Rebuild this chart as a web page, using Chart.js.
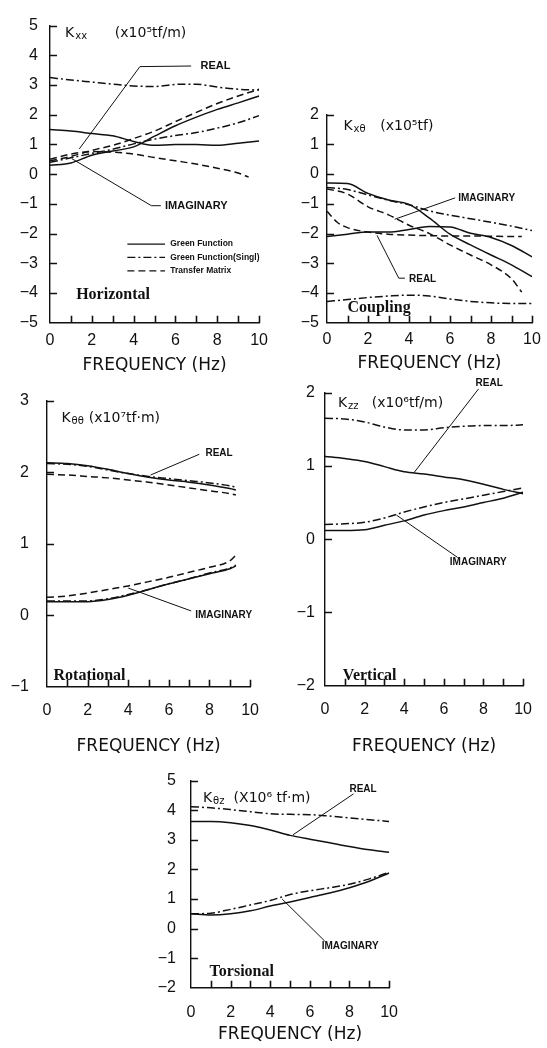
<!DOCTYPE html>
<html>
<head>
<meta charset="utf-8">
<script src="https://cdn.jsdelivr.net/npm/chart.js@4.4.1/dist/chart.umd.min.js"></script>
<style>
    html, body { margin: 0; padding: 0; background: #fff; }
    body { width: 547px; height: 1048px; position: relative; overflow: hidden; }
    canvas { position: absolute; }
</style>
</head>
<body>
<canvas id="cH"></canvas>
<canvas id="cC"></canvas>
<canvas id="cR"></canvas>
<canvas id="cV"></canvas>
<canvas id="cT"></canvas>
<script>
// frequencies (Hz)
const freq = [0, 1, 2, 3, 4, 5, 6, 7, 8, 9, 10];
const freqTo95 = [0, 1, 2, 3, 4, 5, 6, 7, 8, 9, 9.5];
const freqTo93 = [0, 1, 2, 3, 4, 5, 6, 7, 8, 9, 9.3];
const freqCouplingTM = [0, 0.5, 1, 2, 3, 4, 5, 6, 7, 8, 9, 9.5];

// Horizontal Kxx (x10^5 tf/m)
const kxxRealGreen = [1.5, 1.45, 1.37, 1.29, 1.1, 0.97, 1.0, 1.0, 0.97, 1.04, 1.12];
const kxxRealSingl = [3.25, 3.17, 3.1, 3.03, 2.97, 2.95, 3.02, 3.03, 2.93, 2.86, 2.83];
const kxxRealTM = [0.5, 0.68, 0.76, 0.74, 0.68, 0.56, 0.45, 0.34, 0.2, 0.04, -0.1];
const kxxImagGreen = [0.3, 0.38, 0.64, 0.78, 0.92, 1.28, 1.63, 1.92, 2.18, 2.4, 2.63];
const kxxImagSingl = [0.4, 0.55, 0.7, 0.84, 1.02, 1.18, 1.3, 1.4, 1.55, 1.73, 1.97];
const kxxImagTM = [0.45, 0.6, 0.8, 0.97, 1.2, 1.45, 1.77, 2.08, 2.38, 2.63, 2.86];

// Coupling Kx-theta (x10^5 tf)
const kxtGreenA = [-0.3, -0.32, -0.65, -0.87, -1.02, -1.48, -2.02, -2.38, -2.72, -3.05, -3.45];
const kxtGreenB = [-2.1, -2.02, -1.95, -1.95, -1.86, -1.76, -1.78, -1.99, -2.13, -2.4, -2.78];
const kxtSinglA = [-0.45, -0.52, -0.7, -0.88, -1.03, -1.24, -1.38, -1.5, -1.62, -1.75, -1.9];
const kxtSinglB = [-4.28, -4.22, -4.15, -4.1, -4.07, -4.1, -4.2, -4.28, -4.33, -4.35, -4.35];
const kxtTMA = [-0.5, -0.67, -1.1, -1.37, -1.72, -2.0, -2.38, -2.72, -3.05, -3.52, -3.97];
const kxtTMB = [-1.25, -1.62, -1.8, -1.95, -2.02, -2.05, -2.07, -2.08, -2.08, -2.09, -2.1, -2.1];

// Rotational K-theta-theta (x10^7 tf.m)
const kttRealGreen = [2.13, 2.12, 2.09, 2.04, 1.98, 1.93, 1.89, 1.86, 1.82, 1.77, 1.75];
const kttRealSingl = [2.12, 2.11, 2.08, 2.03, 1.98, 1.94, 1.91, 1.88, 1.85, 1.81, 1.79];
const kttRealTM = [1.97, 1.96, 1.94, 1.92, 1.89, 1.86, 1.82, 1.78, 1.74, 1.7, 1.68];
const kttImagGreen = [0.19, 0.19, 0.19, 0.22, 0.28, 0.36, 0.44, 0.51, 0.58, 0.65, 0.69];
const kttImagSingl = [0.2, 0.2, 0.2, 0.23, 0.29, 0.36, 0.44, 0.51, 0.59, 0.66, 0.7];
const kttImagTM = [0.25, 0.27, 0.31, 0.36, 0.41, 0.47, 0.53, 0.6, 0.67, 0.76, 0.84];

// Vertical Kzz (x10^6 tf/m)
const kzzRealGreen = [1.13, 1.1, 1.06, 0.99, 0.92, 0.89, 0.85, 0.81, 0.75, 0.68, 0.62];
const kzzRealSingl = [1.65, 1.64, 1.6, 1.53, 1.49, 1.49, 1.52, 1.54, 1.55, 1.55, 1.56];
const kzzImagGreen = [0.12, 0.12, 0.13, 0.19, 0.25, 0.33, 0.39, 0.44, 0.5, 0.56, 0.64];
const kzzImagSingl = [0.2, 0.21, 0.23, 0.29, 0.37, 0.44, 0.5, 0.55, 0.6, 0.65, 0.7];

// Torsional K-theta-z (x10^6 tf.m)
const ktzRealGreen = [3.62, 3.62, 3.58, 3.48, 3.33, 3.15, 3.02, 2.9, 2.77, 2.66, 2.58];
const ktzRealSingl = [4.12, 4.08, 4.02, 3.95, 3.88, 3.86, 3.85, 3.8, 3.74, 3.68, 3.62];
const ktzImagGreen = [0.5, 0.46, 0.5, 0.6, 0.76, 0.9, 1.05, 1.2, 1.38, 1.6, 1.88];
const ktzImagSingl = [0.5, 0.52, 0.65, 0.8, 0.95, 1.15, 1.28, 1.38, 1.5, 1.68, 1.9];

const legendLabels = ["Green Function", "Green Function(Singl)", "Transfer Matrix"];
const legendStyles = ["solid", "dashdot", "dash"];

const INK = "#111";
const DASH = { solid: [], dashdot: [8, 3, 2, 3], dash: [7, 4] };

function fmtTick(v) {
    return v < 0 ? "\u2212" + Math.abs(v) : String(v);
}

// annotations, ticks pointing inward, labels
function notesPlugin(cfg) {
    return {
        id: "notes",
        afterDraw(chart) {
            const ctx = chart.ctx;
            const area = chart.chartArea;
            const x = chart.scales.x, y = chart.scales.y;
            const px = v => x.getPixelForValue(v);
            const py = v => y.getPixelForValue(v);
            ctx.save();
            ctx.strokeStyle = INK;
            ctx.fillStyle = INK;
            ctx.setLineDash([]);

            // inward tick marks, one per unit
            ctx.lineWidth = 1.6;
            ctx.beginPath();
            for (let v = 1; v <= 10; v++) {
                const xx = Math.round(px(v)) + 0.5;
                ctx.moveTo(xx, area.bottom);
                ctx.lineTo(xx, area.bottom - 7);
            }
            for (let v = cfg.yMin + 1; v <= cfg.yMax; v++) {
                const yy = Math.round(py(v)) + 0.5;
                ctx.moveTo(area.left, yy);
                ctx.lineTo(area.left + 7, yy);
            }
            ctx.stroke();

            // leader lines
            ctx.lineWidth = 1;
            cfg.leaders.forEach(pts => {
                ctx.beginPath();
                pts.forEach(([a, b], i) => i ? ctx.lineTo(px(a), py(b)) : ctx.moveTo(px(a), py(b)));
                ctx.stroke();
            });

            ctx.textBaseline = "middle";
            ctx.textAlign = "left";
            ctx.font = cfg.tagFont;
            cfg.tags.forEach(([t, a, b]) => ctx.fillText(t, px(a), py(b)));

            ctx.font = 'bold 16px "Liberation Serif"';
            ctx.fillText(cfg.name[0], px(cfg.name[1]), py(cfg.name[2]));

            // K label with subscript
            const k = cfg.kLabel;
            ctx.font = '14px "DejaVu Sans"';
            ctx.fillText("K", px(k.x), py(k.y));
            const kw = ctx.measureText("K").width;
            ctx.font = '10px "DejaVu Sans"';
            ctx.fillText(k.sub, px(k.x) + kw + 1, py(k.y) + 3);
            ctx.font = '14px "DejaVu Sans"';
            ctx.fillText(k.unit, px(k.ux), py(k.y));

            if (cfg.legend) {
                ctx.font = 'bold 8.5px "Liberation Sans"';
                legendLabels.forEach((lab, i) => {
                    const yy = py(cfg.legend.y[i]);
                    ctx.setLineDash(DASH[legendStyles[i]]);
                    ctx.lineWidth = 1.3;
                    ctx.beginPath();
                    ctx.moveTo(px(cfg.legend.x0), yy);
                    ctx.lineTo(px(cfg.legend.x1), yy);
                    ctx.stroke();
                    ctx.setLineDash([]);
                    ctx.fillText(lab, px(cfg.legend.tx), yy);
                });
            }
            ctx.restore();
        }
    };
}

function buildPanel(cfg) {
    const yW = 46, padTop = 10, padRight = 16;
    const b = cfg.box;
    const left = b.left - yW;
    const top = b.top - padTop;
    const xH = b.titleY + 10.2 - b.bottom;
    const cv = document.getElementById(cfg.id);
    cv.width = b.right + padRight - left;
    cv.height = Math.round(b.bottom + xH - top);
    cv.style.left = left + "px";
    cv.style.top = top + "px";

    new Chart(cv, {
        type: "scatter",
        data: {
            datasets: cfg.series.map(s => ({
                data: s.x.map((f, i) => ({ x: f, y: s.y[i] })),
                showLine: true,
                borderColor: INK,
                borderWidth: 1.5,
                borderDash: DASH[s.style],
                pointRadius: 0,
                cubicInterpolationMode: "monotone",
                fill: false
            }))
        },
        options: {
            responsive: false,
            animation: false,
            events: [],
            layout: { padding: { top: padTop, right: padRight, left: 0, bottom: 0 } },
            plugins: { legend: { display: false }, tooltip: { enabled: false } },
            scales: {
                x: {
                    type: "linear", min: 0, max: 10,
                    grid: { display: false, drawTicks: false },
                    border: { color: INK, width: 1.4 },
                    ticks: { stepSize: 2, padding: b.xGap, color: INK, maxRotation: 0, autoSkip: false,
                             font: { family: "Liberation Sans", size: 16 } },
                    title: { display: true, text: "FREQUENCY (Hz)", color: INK, padding: 0,
                             font: { family: "DejaVu Sans", size: 17 } },
                    afterFit: s => { s.height = xH; }
                },
                y: {
                    type: "linear", min: cfg.yMin, max: cfg.yMax,
                    grid: { display: false, drawTicks: false },
                    border: { color: INK, width: 1.4 },
                    ticks: { stepSize: 1, padding: b.yGap, color: INK, callback: fmtTick,
                             font: { family: "Liberation Sans", size: 16 } },
                    afterFit: s => { s.width = yW; }
                }
            }
        },
        plugins: [notesPlugin(cfg)]
    });
}

buildPanel({
    id: "cH",
    box: { left: 50, right: 260, top: 14, bottom: 323, xGap: 8, yGap: 12, titleY: 366 },
    yMin: -5, yMax: 5,
    series: [
        { x: freq, y: kxxRealGreen, style: "solid" },
        { x: freq, y: kxxRealSingl, style: "dashdot" },
        { x: freqTo95, y: kxxRealTM, style: "dash" },
        { x: freq, y: kxxImagGreen, style: "solid" },
        { x: freq, y: kxxImagSingl, style: "dashdot" },
        { x: freq, y: kxxImagTM, style: "dash" }
    ],
    leaders: [
        [[6.75, 3.64], [4.3, 3.62], [1.4, 0.85]],
        [[5.3, -1.06], [4.85, -1.06], [1.05, 0.52]]
    ],
    tagFont: 'bold 11px "Liberation Sans"',
    tags: [["REAL", 7.2, 3.65], ["IMAGINARY", 5.5, -1.06]],
    name: ["Horizontal", 1.25, -4.05],
    kLabel: { x: 0.72, y: 4.75, sub: "xx", ux: 3.1, unit: "(x10\u2075tf/m)" },
    legend: { x0: 3.7, x1: 5.5, tx: 5.75, y: [-2.35, -2.8, -3.25] }
});

buildPanel({
    id: "cC",
    box: { left: 327, right: 532, top: 107, bottom: 323, xGap: 7, yGap: 8, titleY: 364 },
    yMin: -5, yMax: 2,
    series: [
        { x: freq, y: kxtGreenA, style: "solid" },
        { x: freq, y: kxtGreenB, style: "solid" },
        { x: freq, y: kxtSinglA, style: "dashdot" },
        { x: freq, y: kxtSinglB, style: "dashdot" },
        { x: freqTo95, y: kxtTMA, style: "dash" },
        { x: freqCouplingTM, y: kxtTMB, style: "dash" }
    ],
    leaders: [
        [[6.25, -0.8], [3.3, -1.52]],
        [[3.8, -3.5], [3.5, -3.5], [2.44, -2.06]]
    ],
    tagFont: 'bold 10px "Liberation Sans"',
    tags: [["IMAGINARY", 6.4, -0.8], ["REAL", 4.0, -3.52]],
    name: ["Coupling", 1.0, -4.5],
    kLabel: { x: 0.8, y: 1.6, sub: "x\u03b8", ux: 2.6, unit: "(x10\u2075tf)" }
});

buildPanel({
    id: "cR",
    box: { left: 47, right: 257, top: 383, bottom: 687, xGap: 14, yGap: 18, titleY: 747 },
    yMin: -1, yMax: 3,
    series: [
        { x: freqTo93, y: kttRealGreen, style: "solid" },
        { x: freqTo93, y: kttRealSingl, style: "dashdot" },
        { x: freqTo93, y: kttRealTM, style: "dash" },
        { x: freqTo93, y: kttImagGreen, style: "solid" },
        { x: freqTo93, y: kttImagSingl, style: "dashdot" },
        { x: freqTo93, y: kttImagTM, style: "dash" }
    ],
    leaders: [
        [[7.5, 2.25], [5.1, 1.96]],
        [[7.1, 0.06], [4.0, 0.38]]
    ],
    tagFont: 'bold 10px "Liberation Sans"',
    tags: [["REAL", 7.8, 2.27], ["IMAGINARY", 7.3, 0.0]],
    name: ["Rotational", 0.32, -0.85],
    kLabel: { x: 0.71, y: 2.75, sub: "\u03b8\u03b8", ux: 2.06, unit: "(x10\u2077tf\u00b7m)" }
});

buildPanel({
    id: "cV",
    box: { left: 325, right: 530, top: 383, bottom: 686, xGap: 14, yGap: 10, titleY: 747 },
    yMin: -2, yMax: 2,
    series: [
        { x: freq, y: kzzRealGreen, style: "solid" },
        { x: freq, y: kzzRealSingl, style: "dashdot" },
        { x: freq, y: kzzImagGreen, style: "solid" },
        { x: freq, y: kzzImagSingl, style: "dashdot" }
    ],
    leaders: [
        [[7.75, 2.05], [4.5, 0.91]],
        [[6.7, -0.25], [3.6, 0.33]]
    ],
    tagFont: 'bold 10px "Liberation Sans"',
    tags: [["REAL", 7.6, 2.13], ["IMAGINARY", 6.3, -0.32]],
    name: ["Vertical", 0.9, -1.87],
    kLabel: { x: 0.65, y: 1.85, sub: "zz", ux: 2.36, unit: "(x10\u2076tf/m)" }
});

buildPanel({
    id: "cT",
    box: { left: 191, right: 397, top: 766, bottom: 988, xGap: 15, yGap: 15, titleY: 1035 },
    yMin: -2, yMax: 5,
    series: [
        { x: freq, y: ktzRealGreen, style: "solid" },
        { x: freq, y: ktzRealSingl, style: "dashdot" },
        { x: freq, y: ktzImagGreen, style: "solid" },
        { x: freq, y: ktzImagSingl, style: "dashdot" }
    ],
    leaders: [
        [[8.2, 4.55], [5.15, 3.17]],
        [[6.75, -0.42], [4.6, 1.0]]
    ],
    tagFont: 'bold 10px "Liberation Sans"',
    tags: [["REAL", 8.0, 4.72], ["IMAGINARY", 6.6, -0.6]],
    name: ["Torsional", 0.94, -1.47],
    kLabel: { x: 0.6, y: 4.4, sub: "\u03b8z", ux: 2.15, unit: "(X10\u2076 tf\u00b7m)" }
});
</script>
</body>
</html>
